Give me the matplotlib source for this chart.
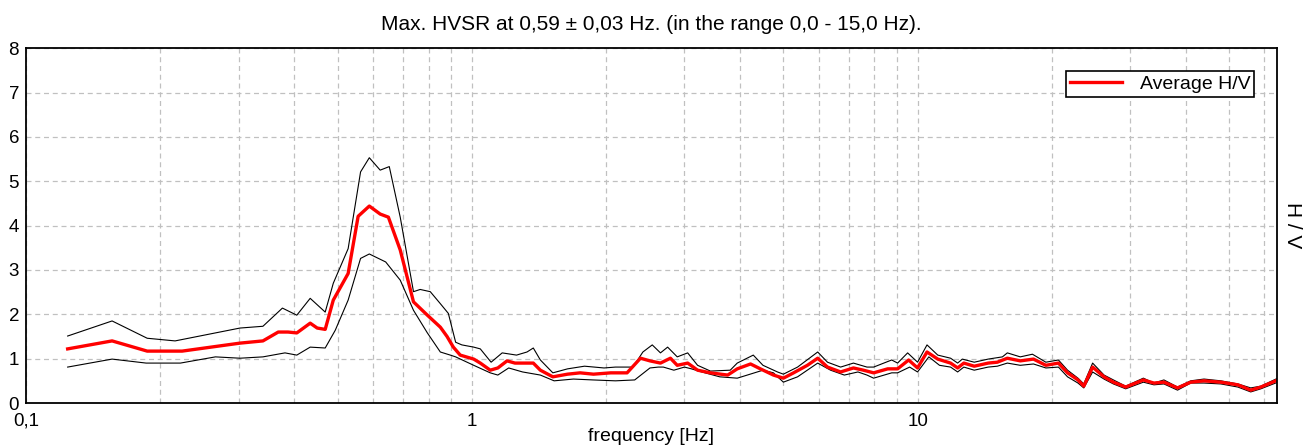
import numpy as np
import matplotlib
matplotlib.use("Agg")
import matplotlib.pyplot as plt
from matplotlib.ticker import FixedLocator, NullFormatter

plt.rcParams["font.family"] = ["Liberation Sans", "DejaVu Sans"]

# Average H/V curve (red)
avg_freq = [0.124, 0.156, 0.187, 0.224, 0.302, 0.340, 0.368, 0.387, 0.405, 0.434,
            0.45, 0.469, 0.489, 0.528, 0.556, 0.589, 0.623, 0.650, 0.691, 0.740,
            0.795, 0.85, 0.88, 0.909, 0.942, 1.01, 1.045, 1.10, 1.144, 1.20,
            1.25, 1.374, 1.425, 1.52, 1.64, 1.75, 1.875, 2.05, 2.23, 2.39,
            2.51, 2.65, 2.79, 2.89, 3.05, 3.21, 3.43, 3.75, 3.94, 4.22,
            4.44, 4.75, 5.00, 5.27, 5.66, 5.97, 6.28, 6.72, 7.18, 7.56,
            7.97, 8.57, 9.02, 9.55, 10.0, 10.5, 11.1, 11.86, 12.3, 12.7,
            13.4, 14.4, 15.1, 15.9, 17.0, 18.2, 19.4, 20.7, 21.7, 22.9,
            23.6, 24.7, 26.2, 27.5, 29.3, 32.1, 33.9, 35.7, 38.3, 41.0,
            43.9, 47.9, 52.3, 55.9, 58.9, 64.3]
avg_hv = [1.22, 1.40, 1.17, 1.17, 1.35, 1.40, 1.60, 1.60, 1.58, 1.80,
          1.69, 1.66, 2.32, 2.92, 4.21, 4.44, 4.26, 4.19, 3.45, 2.28,
          1.98, 1.71, 1.50, 1.26, 1.08, 0.99, 0.90, 0.74, 0.79, 0.95,
          0.90, 0.90, 0.74, 0.59, 0.65, 0.68, 0.65, 0.68, 0.68, 1.01,
          0.95, 0.90, 1.01, 0.85, 0.90, 0.74, 0.68, 0.63, 0.77, 0.88,
          0.77, 0.63, 0.56, 0.68, 0.85, 1.01, 0.81, 0.70, 0.79, 0.74,
          0.68, 0.77, 0.77, 0.97, 0.79, 1.15, 0.99, 0.90, 0.79, 0.90,
          0.83, 0.90, 0.92, 1.01, 0.95, 0.99, 0.85, 0.90, 0.68, 0.52,
          0.38, 0.81, 0.59, 0.47, 0.36, 0.52, 0.45, 0.47, 0.34, 0.47,
          0.50, 0.47, 0.41, 0.29, 0.36, 0.52]

# Upper standard deviation curve (black)
up_freq = [0.124, 0.156, 0.187, 0.216, 0.302, 0.340, 0.376, 0.405, 0.434, 0.469,
           0.489, 0.528, 0.563, 0.589, 0.623, 0.653, 0.691, 0.740, 0.766, 0.807,
           0.85, 0.886, 0.92, 0.95, 1.01, 1.045, 1.105, 1.17, 1.26, 1.33,
           1.374, 1.425, 1.52, 1.64, 1.79, 1.98, 2.10, 2.30, 2.42, 2.54,
           2.65, 2.75, 2.89, 3.05, 3.21, 3.43, 3.8, 3.94, 4.28, 4.50,
           4.85, 5.00, 5.38, 5.97, 6.28, 6.72, 7.18, 7.70, 7.97, 8.75,
           9.02, 9.5, 10.0, 10.5, 11.1, 11.86, 12.3, 12.6, 13.4, 14.4,
           15.5, 15.9, 17.0, 18.1, 19.4, 20.7, 21.7, 22.9, 23.6, 24.7,
           26.2, 27.5, 29.3, 32.1, 33.9, 35.7, 38.3, 41.0, 43.9, 47.9,
           52.3, 55.9, 58.9, 64.3]
up_hv = [1.51, 1.85, 1.46, 1.40, 1.69, 1.73, 2.14, 1.98, 2.36, 2.05,
         2.70, 3.48, 5.21, 5.53, 5.25, 5.33, 4.19, 2.51, 2.56, 2.51,
         2.24, 2.02, 1.37, 1.31, 1.26, 1.22, 0.92, 1.13, 1.08, 1.15,
         1.24, 0.97, 0.68, 0.77, 0.83, 0.79, 0.81, 0.81, 1.15, 1.31,
         1.13, 1.26, 1.04, 1.13, 0.85, 0.72, 0.74, 0.90, 1.08, 0.85,
         0.70, 0.65, 0.81, 1.15, 0.92, 0.81, 0.90, 0.81, 0.81, 0.97,
         0.90, 1.13, 0.92, 1.31, 1.08, 1.01, 0.90, 0.99, 0.92, 0.99,
         1.04, 1.13, 1.04, 1.10, 0.92, 0.97, 0.74, 0.56, 0.43, 0.90,
         0.63, 0.52, 0.38, 0.56, 0.45, 0.52, 0.36, 0.50, 0.54, 0.50,
         0.43, 0.34, 0.38, 0.56]

# Lower standard deviation curve (black)
low_freq = [0.124, 0.156, 0.186, 0.222, 0.266, 0.302, 0.340, 0.381, 0.405, 0.434,
            0.469, 0.494, 0.528, 0.563, 0.589, 0.641, 0.691, 0.740, 0.795, 0.85,
            0.895, 0.92, 1.01, 1.10, 1.144, 1.21, 1.30, 1.425, 1.53, 1.69,
            1.87, 2.10, 2.32, 2.51, 2.62, 2.69, 2.84, 3.00, 3.11, 3.28,
            3.60, 3.94, 4.15, 4.50, 4.75, 5.00, 5.38, 5.97, 6.38, 6.85,
            7.35, 7.70, 7.97, 8.75, 9.02, 9.6, 10.0, 10.6, 11.2, 11.86,
            12.3, 12.7, 13.4, 14.4, 15.1, 15.9, 17.0, 18.2, 19.4, 20.7,
            21.7, 22.9, 23.6, 24.7, 26.2, 27.5, 29.3, 32.1, 33.9, 35.7,
            38.3, 41.0, 43.9, 47.9, 52.3, 55.9, 58.9, 64.3]
low_hv = [0.81, 0.99, 0.90, 0.90, 1.04, 1.01, 1.04, 1.13, 1.08, 1.26,
          1.24, 1.64, 2.32, 3.26, 3.36, 3.18, 2.77, 2.09, 1.58, 1.15,
          1.08, 1.04, 0.85, 0.68, 0.63, 0.79, 0.70, 0.63, 0.50, 0.54,
          0.52, 0.50, 0.52, 0.79, 0.81, 0.81, 0.74, 0.81, 0.77, 0.70,
          0.59, 0.56, 0.63, 0.74, 0.68, 0.47, 0.59, 0.90, 0.74, 0.63,
          0.70, 0.63, 0.56, 0.68, 0.68, 0.81, 0.70, 1.04, 0.85, 0.81,
          0.70, 0.81, 0.74, 0.81, 0.83, 0.90, 0.85, 0.88, 0.79, 0.81,
          0.59, 0.45, 0.34, 0.70, 0.54, 0.43, 0.32, 0.47, 0.41, 0.43,
          0.29, 0.45, 0.45, 0.43, 0.36, 0.25, 0.32, 0.47]

major_ticks = [0.1, 1, 10]
major_labels = ["0,1", "1", "10"]

fig = plt.figure(figsize=(13.07, 4.46), dpi=100)
ax = fig.add_axes([0.0199, 0.0964, 0.9571, 0.7956])

ax.plot(up_freq, up_hv, color="black", lw=0.8)
ax.plot(low_freq, low_hv, color="black", lw=0.8)
ax.plot(avg_freq, avg_hv, color="#ff0000", lw=2.4, label="Average H/V")

ax.set_xscale("log")
ax.set_xlim(0.1, 64)
ax.set_ylim(0, 8)

minor = [m * d for d in (0.1, 1, 10) for m in range(2, 10) if m * d < 64]
ax.xaxis.set_major_locator(FixedLocator(major_ticks))
ax.xaxis.set_minor_locator(FixedLocator(minor))
ax.xaxis.set_minor_formatter(NullFormatter())
ax.set_xticklabels(major_labels)
ax.set_yticks(range(0, 9))
ax.tick_params(which="both", length=0, labelsize=13.5, pad=7)
ax.tick_params(axis="y", pad=5)

ax.grid(True, which="both", color="#c0c0c0", ls=(0, (4, 3)), lw=0.9)
for s in ax.spines.values():
    s.set_linewidth(1.3)

ax.set_xlabel("frequency [Hz]", fontsize=14, labelpad=-1)
ax.yaxis.set_label_position("right")
ax.set_ylabel("H / V", fontsize=15, rotation=-90, labelpad=18)
ax.set_title("Max. HVSR at 0,59 \u00b1 0,03 Hz. (in the range 0,0 - 15,0 Hz).",
             fontsize=15, pad=13)

leg = ax.legend(loc="upper right", bbox_to_anchor=(0.982, 0.935), fontsize=14,
                fancybox=False, framealpha=1, edgecolor="black",
                handlelength=2.7, handletextpad=0.9, borderpad=0.2,
                borderaxespad=0)
leg.get_frame().set_linewidth(1.2)

fig.savefig("out.png", dpi=100)
